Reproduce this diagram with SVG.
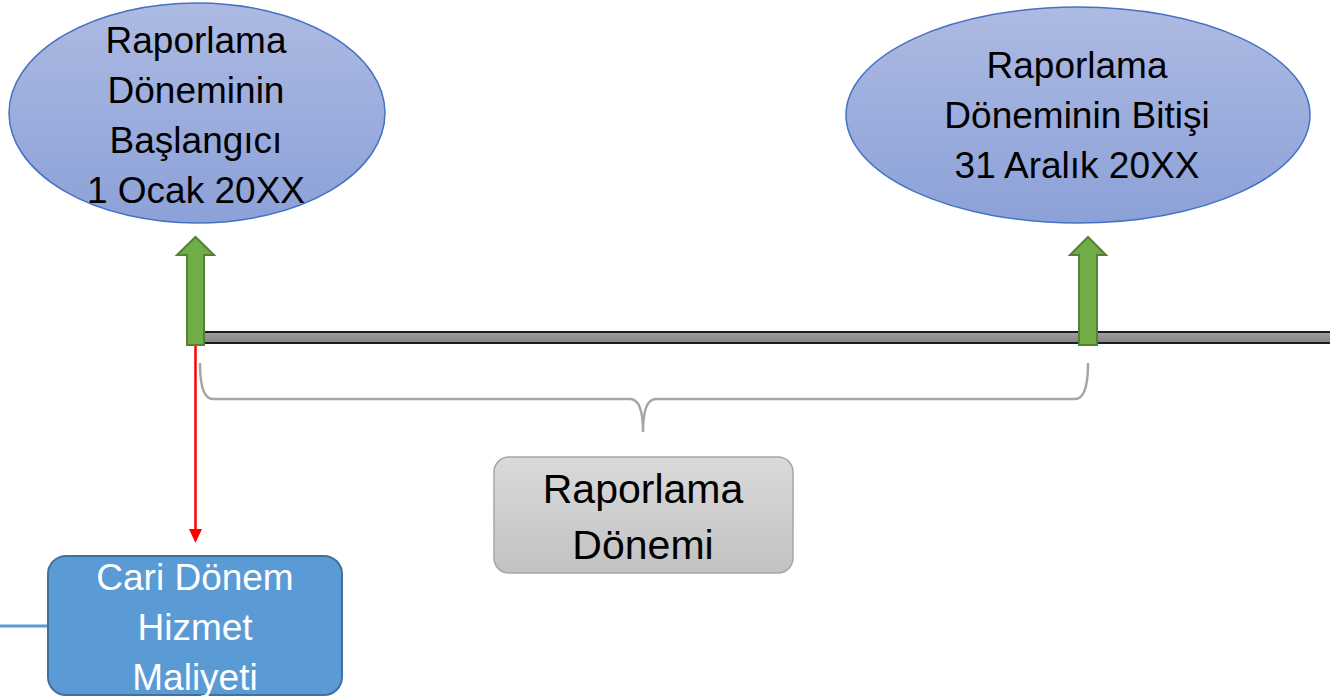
<svg xmlns="http://www.w3.org/2000/svg" width="1330" height="699" viewBox="0 0 1330 699">
  <style>
    .t { font-family: "Liberation Sans", Arial, sans-serif; text-anchor: middle; fill: #000; }
    .w { fill: #fff; }
    .ell { fill: url(#ellG); stroke: #4472C4; stroke-width: 1.5; }
    .garrow { fill: #70AD47; stroke: #538135; stroke-width: 2; stroke-linejoin: miter; }
  </style>
  <defs>
    <linearGradient id="ellG" x1="0" y1="0" x2="0" y2="1">
      <stop offset="0" stop-color="#ADBAE2"/>
      <stop offset="1" stop-color="#8CA1D8"/>
    </linearGradient>
    <linearGradient id="grayG" x1="0" y1="0" x2="0" y2="1">
      <stop offset="0" stop-color="#DADADA"/>
      <stop offset="1" stop-color="#C2C2C2"/>
    </linearGradient>
    <linearGradient id="barG" x1="0" y1="0" x2="0" y2="1">
      <stop offset="0" stop-color="#A0A0A0"/>
      <stop offset="1" stop-color="#858585"/>
    </linearGradient>
  </defs>

  <g id="timeline">
    <rect x="200" y="332" width="1140" height="11" fill="url(#barG)" stroke="#1E1E1E" stroke-width="2"/>
  </g>

  <g id="connectors">
    <line x1="195.5" y1="346" x2="195.5" y2="529" stroke="#FF0000" stroke-width="2.5"/>
    <path d="M189 529 L202 529 L195.5 543 Z" fill="#FF0000"/>
    <line x1="0" y1="626" x2="48" y2="626" stroke="#5B9BD5" stroke-width="3"/>
    <path d="M200 363 Q200 399 213 399 L630 399 Q643 399 643 432 Q643 399 656 399 L1075 399 Q1088 399 1088 363" fill="none" stroke="#A6A6A6" stroke-width="2.5"/>
  </g>

  <g id="arrow-start">
    <path class="garrow" d="M187 345 L187 255 L177 255 L195.5 237 L214 255 L204 255 L204 345 Z"/>
  </g>
  <g id="arrow-end">
    <path class="garrow" d="M1079 345 L1079 255 L1070 255 L1088 237 L1106 255 L1097 255 L1097 345 Z"/>
  </g>

  <g id="start-node">
    <ellipse class="ell" cx="197" cy="113" rx="188" ry="110"/>
    <text class="t" font-size="37" x="196" y="53">Raporlama</text>
    <text class="t" font-size="37" x="196" y="103">Döneminin</text>
    <text class="t" font-size="37" x="196" y="153">Başlangıcı</text>
    <text class="t" font-size="37" x="196" y="203">1 Ocak 20XX</text>
  </g>

  <g id="end-node">
    <ellipse class="ell" cx="1078" cy="115" rx="232" ry="108"/>
    <text class="t" font-size="37" x="1077" y="78">Raporlama</text>
    <text class="t" font-size="37" x="1077" y="128">Döneminin Bitişi</text>
    <text class="t" font-size="37" x="1077" y="178">31 Aralık 20XX</text>
  </g>

  <g id="period-node">
    <rect x="494" y="457" width="299" height="116" rx="15" ry="15" fill="url(#grayG)" stroke="#A6A6A6" stroke-width="1.5"/>
    <text class="t" font-size="41" x="643" y="503">Raporlama</text>
    <text class="t" font-size="41" x="643" y="559">Dönemi</text>
  </g>

  <g id="cost-node">
    <rect x="48" y="556" width="294" height="139" rx="18" ry="18" fill="#5B9BD5" stroke="#41719C" stroke-width="2"/>
    <text class="t w" font-size="37" x="195" y="590">Cari Dönem</text>
    <text class="t w" font-size="37" x="195" y="640">Hizmet</text>
    <text class="t w" font-size="37" x="195" y="690">Maliyeti</text>
  </g>
</svg>
